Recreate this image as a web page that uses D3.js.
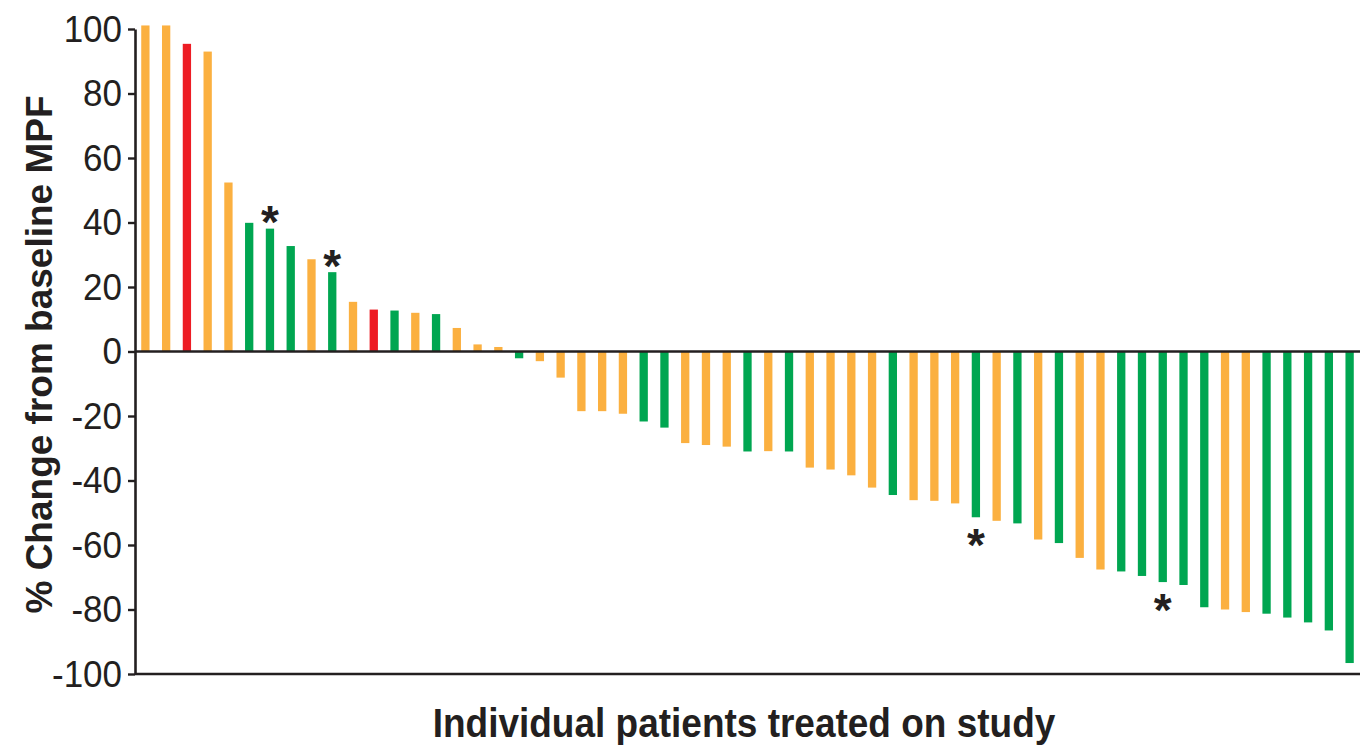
<!DOCTYPE html>
<html>
<head>
<meta charset="utf-8">
<script src="https://cdn.jsdelivr.net/npm/d3@7"></script>
<style>
  html, body { margin: 0; padding: 0; background: #fff; }
  svg { display: block; font-family: "Liberation Sans", Arial, Helvetica, sans-serif; }
</style>
</head>
<body>
<svg id="chart" width="1363" height="745"></svg>
<script>
// ---- Data ----
const changeFromBaseline = [101.1, 101.1, 95.4, 93.0, 52.4, 39.9, 38.1, 32.7, 28.6, 24.6,
  15.4, 13.0, 12.7, 12.0, 11.6, 7.3, 2.2, 1.4, -2.1, -3.0,
  -8.1, -18.5, -18.5, -19.3, -21.7, -23.6, -28.4, -29.0, -29.5, -31.0,
  -30.9, -31.0, -36.0, -36.6, -38.4, -42.2, -44.5, -46.1, -46.3, -47.1,
  -51.4, -52.5, -53.3, -58.3, -59.4, -64.0, -67.6, -68.2, -69.6, -71.5,
  -72.4, -79.3, -80.0, -80.8, -81.3, -82.5, -84.0, -86.5, -96.6];
const patientGroup = ["B", "B", "C", "B", "B", "A", "A", "A", "B", "A",
  "B", "C", "A", "B", "A", "B", "B", "B", "A", "B",
  "B", "B", "B", "B", "A", "A", "B", "B", "B", "A",
  "B", "A", "B", "B", "B", "B", "A", "B", "B", "B",
  "A", "B", "A", "B", "A", "B", "B", "A", "A", "A",
  "A", "A", "B", "B", "A", "A", "A", "A", "A"];
const patients = changeFromBaseline.map((_, i) => "P" + (i + 1));
const asteriskPatients = ["P7", "P10", "P41", "P50"];
const yTicks = [-100, -80, -60, -40, -20, 0, 20, 40, 60, 80, 100];
const yLabel = "% Change from baseline MPF";
const xLabel = "Individual patients treated on study";

const rows = patients.map((p, i) => ({ patient: p, value: changeFromBaseline[i], group: patientGroup[i] }));

// ---- Layout ----
const svg = d3.select("#chart");
const mLeft = 135, mRight = 1360, mTop = 29, mBottom = 674;
const ink = "#231f20";

const x = d3.scaleBand().domain(patients).range([mLeft, mRight]).paddingInner(0.6).paddingOuter(0.3);
const y = d3.scaleLinear().domain([-100, 100]).range([mBottom, mTop]);
const color = d3.scaleOrdinal().domain(["A", "B", "C"]).range(["#00a651", "#fbb040", "#ed1c24"]);

// bars
svg.append("g").selectAll("rect").data(rows).join("rect")
  .attr("x", d => x(d.patient))
  .attr("width", x.bandwidth())
  .attr("y", d => y(Math.max(0, d.value)))
  .attr("height", d => Math.abs(y(d.value) - y(0)))
  .attr("fill", d => color(d.group));

// zero line and bottom line
svg.append("line").attr("x1", mLeft).attr("x2", mRight).attr("y1", y(0)).attr("y2", y(0))
  .attr("stroke", ink).attr("stroke-width", 2.6);
svg.append("line").attr("x1", mLeft).attr("x2", mRight).attr("y1", y(-100)).attr("y2", y(-100))
  .attr("stroke", ink).attr("stroke-width", 2.6);

// y axis
const yAxis = svg.append("g").attr("transform", `translate(${mLeft},0)`)
  .call(d3.axisLeft(y).tickValues(yTicks).tickSize(7).tickSizeOuter(0).tickPadding(6).tickFormat(d => String(d)));
yAxis.select(".domain").attr("stroke", ink).attr("stroke-width", 2.6);
yAxis.selectAll(".tick line").attr("stroke", ink).attr("stroke-width", 2.4);
yAxis.selectAll(".tick text").attr("fill", ink).attr("font-size", 35)
  .attr("transform", "scale(1,1.08)")
  .attr("font-family", "'Liberation Sans', Arial, sans-serif");

// asterisks
const fs = 46;
svg.append("g").selectAll("text").data(rows.filter(d => asteriskPatients.includes(d.patient))).join("text")
  .attr("x", d => x(d.patient) + x.bandwidth() / 2)
  .attr("y", d => d.value >= 0 ? y(d.value) - 16 + fs * 0.56 : y(d.value) + 18 + fs * 0.56)
  .attr("text-anchor", "middle")
  .attr("font-size", fs).attr("font-weight", "bold").attr("fill", ink)
  .text("*");

// axis labels
svg.append("text")
  .attr("transform", `translate(52,${(mTop + mBottom) / 2 + 3}) rotate(-90)`)
  .attr("text-anchor", "middle").attr("font-size", 37).attr("font-weight", "bold").attr("fill", ink)
  .text(yLabel);
svg.append("text")
  .attr("transform", "translate(744,737) scale(1,1.1)")
  .attr("text-anchor", "middle").attr("font-size", 37).attr("font-weight", "bold").attr("fill", ink)
  .text(xLabel);
</script>
</body>
</html>
